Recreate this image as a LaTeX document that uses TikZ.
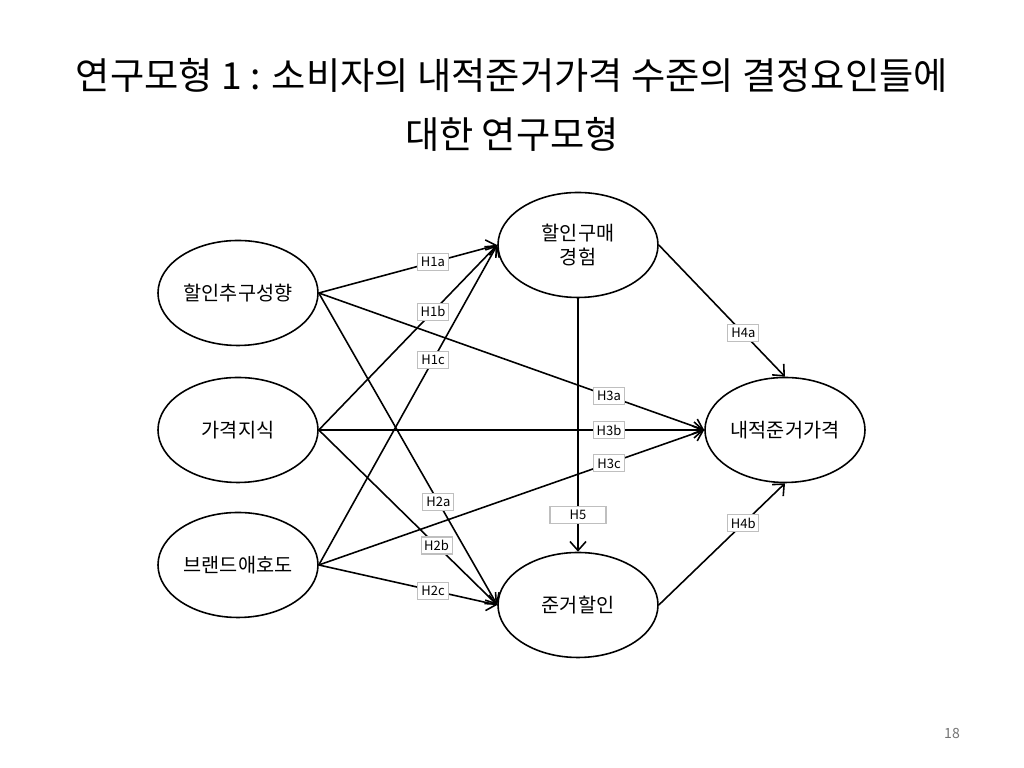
\documentclass[tikz,border=0pt]{standalone}
\usepackage{fontspec}
\setmainfont{Noto Sans CJK KR}
\usepackage{tikz}
\usetikzlibrary{arrows.meta,shapes.geometric}

\begin{document}
\begin{tikzpicture}[>={Straight Barb[length=0.9mm,width=1.6mm]}, line width=0.45pt,
  construct/.style={draw, ellipse, minimum width=1.6cm, minimum height=1.05cm,
    inner sep=0pt, align=center, font=\fontsize{5.6}{6.6}\selectfont},
  hyp/.style={draw=black!25, fill=white, line width=0.3pt, inner sep=0.5pt,
    minimum width=0.31cm, minimum height=0.17cm, font=\fontsize{3.7}{4}\selectfont}]
\useasboundingbox (0,0) rectangle (10.24,7.68);
\node[font=\fontsize{10.6}{17}\selectfont, align=center] (title) at (5.12,6.63)
  {연구모형 1 : 소비자의 내적준거가격 수준의 결정요인들에\\대한 연구모형};
% left side constructs
\node[construct] (seek) at (2.38,4.75) {할인추구성향};
\node[construct] (know) at (2.38,3.38) {가격지식};
\node[construct] (loyal) at (2.38,2.03) {브랜드애호도};
% mediators and outcome
\node[construct] (exper) at (5.78,5.23) {할인구매\\경험};
\node[construct] (refdc) at (5.78,1.63) {준거할인};
\node[construct] (irp) at (7.85,3.38) {내적준거가격};
\draw[->] (seek.east) -- (exper.west) node[hyp, pos=0.64] {H1a};
\draw[->] (know.east) -- (exper.west) node[hyp, pos=0.64] {H1b};
\draw[->] (loyal.east) -- (exper.west) node[hyp, pos=0.64] {H1c};
\draw[->] (seek.east) -- (refdc.west) node[hyp, pos=0.67] {H2a};
\draw[->] (know.east) -- (refdc.west) node[hyp, pos=0.66] {H2b};
\draw[->] (loyal.east) -- (refdc.west) node[hyp, pos=0.64] {H2c};
\draw[->] (seek.east) -- (irp.west) node[hyp, pos=0.753] {H3a};
\draw[->] (know.east) -- (irp.west) node[hyp, pos=0.753] {H3b};
\draw[->] (loyal.east) -- (irp.west) node[hyp, pos=0.753] {H3c};
\draw[->] (exper.east) -- (irp.north) node[hyp, pos=0.67] {H4a};
\draw[->] (refdc.east) -- (irp.south) node[hyp, pos=0.67] {H4b};
\draw[->] (exper.south) -- (refdc.north) node[hyp, pos=0.855, minimum width=0.56cm] {H5};
\node[font=\fontsize{4}{5}\selectfont, text=black!55] (pageno) at (9.52,0.35) {18};
\end{tikzpicture}
\end{document}
